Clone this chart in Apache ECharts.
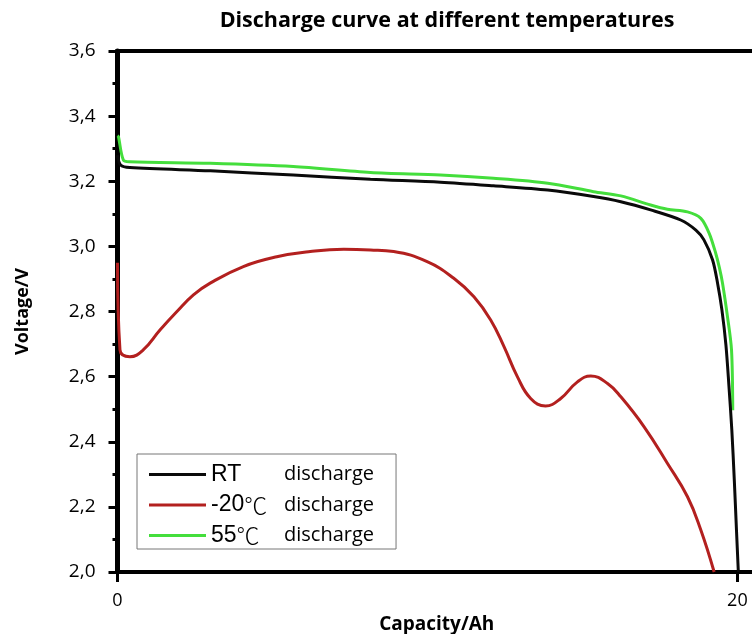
<!DOCTYPE html>
<html>
<head>
<meta charset="utf-8">
<script src="https://cdn.jsdelivr.net/npm/echarts@6/dist/echarts.min.js"></script>
<style>html,body{margin:0;padding:0;background:#fff;overflow:hidden}#c{width:752px;height:634px}</style>
</head>
<body>
<div id="c"></div>
<script>
const chartTitle = 'Discharge curve at different temperatures';
const xAxisName = 'Capacity/Ah';
const yAxisName = 'Voltage/V';
const xTickLabels = ['0', '20'];
const seriesNames = ['RT discharge', '-20\u2103 discharge', '55\u2103 discharge'];

// RT discharge: [capacity Ah, voltage V]
const rtCapacity = [0, 0.1, 0.4, 3.0, 5.67, 8.16, 10.42, 12.13, 13.88, 15.36, 16.24, 17.2, 18.17, 18.66, 18.92, 19.2, 19.36, 19.50, 19.63, 19.725, 19.82, 19.90, 19.97, 20.03];
const rtVoltage  = [3.28, 3.25, 3.242, 3.232, 3.219, 3.206, 3.197, 3.186, 3.173, 3.153, 3.137, 3.112, 3.081, 3.050, 3.020, 2.958, 2.887, 2.805, 2.697, 2.574, 2.436, 2.282, 2.129, 2.0];

// -20 C discharge
const lowCapacity = [0, 0.08, 0.4, 0.83, 1.37, 1.91, 2.45, 2.99, 4.06, 5.14, 6.22, 7.30, 8.16, 8.91, 9.99, 10.85, 11.50, 12.04, 12.47, 12.90, 13.33, 13.81, 14.30, 14.84, 15.27, 15.81, 16.24, 16.99, 17.74, 18.39, 18.82, 19.25];
const lowVoltage  = [2.95, 2.682, 2.661, 2.682, 2.743, 2.799, 2.851, 2.887, 2.938, 2.968, 2.984, 2.991, 2.989, 2.984, 2.953, 2.902, 2.845, 2.774, 2.692, 2.600, 2.533, 2.510, 2.533, 2.584, 2.602, 2.579, 2.538, 2.446, 2.334, 2.231, 2.129, 2.0];

// 55 C discharge
const highCapacity = [0, 0.03, 0.19, 0.4, 2.99, 5.67, 8.16, 10.42, 12.13, 13.88, 15.36, 16.24, 17.2, 17.74, 18.39, 18.82, 19.09, 19.3, 19.42, 19.52, 19.68, 19.81, 19.85];
const highVoltage  = [3.34, 3.337, 3.265, 3.26, 3.255, 3.245, 3.227, 3.219, 3.209, 3.194, 3.168, 3.155, 3.127, 3.114, 3.106, 3.086, 3.040, 2.979, 2.934, 2.887, 2.784, 2.682, 2.497];

const zip = (xs, ys) => xs.map((x, i) => [x, ys[i]]);
const colors = ['#0a0a0a', '#b3201f', '#44de3c'];

// legend label parts: [label, unit symbol, word]
const legendParts = [['RT', '', 'discharge'], ['-20', '\u2103', 'discharge'], ['55', '\u2103', 'discharge']];
const numFont = '23px "Liberation Sans"';
const unitFont = '300 23px "Noto Sans CJK SC"';
const measure = (() => {
  const ctx = document.createElement('canvas').getContext('2d');
  return (font, t) => { ctx.font = font; return t ? ctx.measureText(t).width : 0; };
})();
const labelColumn = 73;
const rich = {
  n: {fontFamily: 'Liberation Sans', fontSize: 23, color: '#000', lineHeight: 24},
  u: {fontFamily: 'Noto Sans CJK SC', fontWeight: 300, fontSize: 23, color: '#000', lineHeight: 24},
  b: {fontFamily: 'Open Sans', fontSize: 20, color: '#000', lineHeight: 24}
};
const legendText = {};
legendParts.forEach((p, i) => {
  const used = measure(numFont, p[0]) + measure(unitFont, p[1]);
  rich['g' + i] = {width: Math.max(1, labelColumn - used), fontSize: 10, lineHeight: 24};
  legendText[seriesNames[i]] = '{n|' + p[0] + '}' + (p[1] ? '{u|' + p[1] + '}' : '') + '{g' + i + '| }{b|' + p[2] + '}';
});

const chart = echarts.init(document.getElementById('c'), null, {renderer: 'canvas'});
const mkSeries = (name, data, color, z, smooth) => ({
  name, type: 'line', data, symbol: 'none', smooth, z,
  lineStyle: {color, width: 3}, itemStyle: {color}
});
chart.setOption({
  backgroundColor: '#fff',
  animation: false,
  title: {
    text: chartTitle, left: 442, top: 5, textAlign: 'center',
    textStyle: {fontFamily: 'Open Sans', fontWeight: 'bold', fontSize: 21.5, color: '#000'}
  },
  grid: {left: 117.5, top: 51, right: -4, bottom: 62, outerBoundsMode: 'none', containLabel: false,
    show: true, borderColor: '#000', borderWidth: 4, backgroundColor: 'transparent'},
  legend: {
    orient: 'vertical', left: 137, top: 454,
    backgroundColor: '#fff', borderColor: '#777', borderWidth: 1,
    padding: [9, 22, 2, 12], itemGap: 7.5, itemWidth: 57, itemHeight: 3, icon: 'rect',
    data: seriesNames,
    formatter: n => legendText[n],
    textStyle: {rich}
  },
  xAxis: {
    type: 'value', min: 0, max: 20.6, interval: 20,
    name: xAxisName, nameLocation: 'middle', nameGap: 40,
    nameTextStyle: {fontFamily: 'Open Sans', fontWeight: 'bold', fontSize: 19, color: '#000'},
    axisLine: {show: true, lineStyle: {color: '#000', width: 4}},
    axisTick: {show: true, length: 10, lineStyle: {color: '#000', width: 3}},
    axisLabel: {
      margin: 20, fontFamily: 'Open Sans', fontSize: 18, color: '#000',
      formatter: v => (v === 0 ? xTickLabels[0] : (v === 20 ? xTickLabels[1] : ''))
    },
    splitLine: {show: false}
  },
  yAxis: {
    type: 'value', min: 2.0, max: 3.6, interval: 0.2,
    name: yAxisName, nameLocation: 'middle', nameGap: 86,
    nameTextStyle: {fontFamily: 'Open Sans', fontWeight: 'bold', fontSize: 18, color: '#000'},
    axisLine: {show: true, lineStyle: {color: '#000', width: 5}},
    axisTick: {show: true, length: 9, lineStyle: {color: '#000', width: 3}},
    minorTick: {show: true, splitNumber: 2, length: 5, lineStyle: {color: '#000', width: 3}},
    axisLabel: {
      margin: 22, fontFamily: 'Open Sans', fontSize: 19, color: '#000',
      formatter: v => v.toFixed(1).replace('.', ',')
    },
    splitLine: {show: false}
  },
  series: [
    mkSeries(seriesNames[0], zip(rtCapacity, rtVoltage), colors[0], 3, 0.3),
    mkSeries(seriesNames[1], zip(lowCapacity, lowVoltage), colors[1], 2, 0.45),
    mkSeries(seriesNames[2], zip(highCapacity, highVoltage), colors[2], 2, 0.3)
  ]
});
</script>
</body>
</html>
